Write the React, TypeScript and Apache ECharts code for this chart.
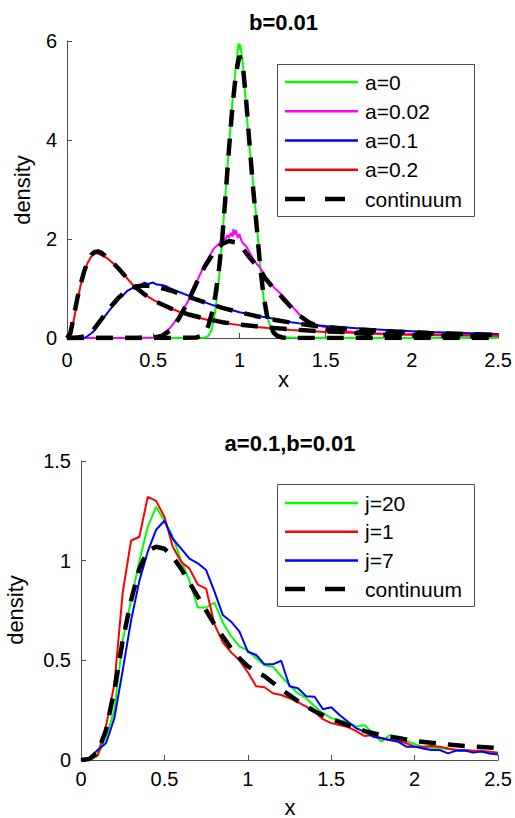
import React, { useEffect, useRef } from 'react';
import * as echarts from 'echarts';

// ---------- data: top panel (b=0.01) ----------
const topTitle = 'b=0.01';
const bottomTitle = 'a=0.1,b=0.01';
const topLegend = ['a=0', 'a=0.02', 'a=0.1', 'a=0.2', 'continuum'];
const bottomLegend = ['j=20', 'j=1', 'j=7', 'continuum'];

const topA0: number[][] = [
  [0, 0], [0.5, 0], [0.75, 0], [0.8, 0.01], [0.82, 0.04], [0.84, 0.17], [0.86, 0.55], [0.88, 1.15],
  [0.9, 2.0], [0.92, 2.95], [0.94, 3.9], [0.96, 4.8], [0.98, 5.5], [0.99, 5.8], [0.995, 5.95],
  [1.0, 5.82], [1.005, 5.93], [1.01, 5.8], [1.02, 5.55], [1.04, 4.6], [1.06, 3.8], [1.08, 3.1],
  [1.1, 2.35], [1.12, 1.45], [1.14, 0.8], [1.16, 0.45], [1.18, 0.22], [1.2, 0.1], [1.22, 0.05],
  [1.25, 0.02], [1.3, 0.01], [1.5, 0], [2.5, 0],
];
const topA002: number[][] = [
  [0, 0], [0.4, 0], [0.5, 0.01], [0.55, 0.06], [0.6, 0.21], [0.65, 0.45], [0.7, 0.73], [0.75, 1.12],
  [0.8, 1.5], [0.85, 1.8], [0.88, 1.9], [0.9, 1.97], [0.92, 2.0], [0.93, 2.08], [0.94, 2.02],
  [0.95, 2.12], [0.96, 2.05], [0.965, 2.2], [0.97, 2.08], [0.98, 2.18], [0.99, 2.02], [1.0, 2.1],
  [1.01, 1.98], [1.02, 1.92], [1.04, 1.85], [1.06, 1.72], [1.08, 1.6], [1.1, 1.5], [1.12, 1.42],
  [1.15, 1.25], [1.2, 1.02], [1.25, 0.86], [1.3, 0.66], [1.35, 0.47], [1.4, 0.34], [1.45, 0.26],
  [1.5, 0.21], [1.6, 0.14], [1.7, 0.1], [1.8, 0.08], [2.0, 0.06], [2.2, 0.05], [2.5, 0.04],
];
const topA01: number[][] = [
  [0, 0], [0.1, 0], [0.12, 0.04], [0.15, 0.12], [0.2, 0.35], [0.25, 0.58], [0.3, 0.78], [0.35, 0.95],
  [0.4, 1.05], [0.43, 1.08], [0.45, 1.12], [0.47, 1.09], [0.5, 1.12], [0.52, 1.08], [0.55, 1.07],
  [0.58, 1.04], [0.6, 1.0], [0.65, 0.93], [0.7, 0.86], [0.75, 0.78], [0.8, 0.72], [0.85, 0.66],
  [0.9, 0.61], [0.95, 0.57], [1.0, 0.52], [1.1, 0.45], [1.2, 0.39], [1.3, 0.32], [1.4, 0.27],
  [1.5, 0.24], [1.7, 0.19], [1.9, 0.15], [2.1, 0.12], [2.3, 0.1], [2.5, 0.08],
];
const topA02: number[][] = [
  [0, 0], [0.02, 0.05], [0.04, 0.38], [0.06, 0.75], [0.08, 1.08], [0.1, 1.33], [0.12, 1.52],
  [0.14, 1.64], [0.16, 1.7], [0.18, 1.71], [0.2, 1.67], [0.23, 1.62], [0.26, 1.53], [0.29, 1.44],
  [0.32, 1.33], [0.35, 1.2], [0.38, 1.08], [0.41, 0.98], [0.45, 0.88], [0.5, 0.77], [0.55, 0.68],
  [0.6, 0.6], [0.65, 0.53], [0.7, 0.47], [0.8, 0.38], [0.9, 0.31], [1.0, 0.26], [1.1, 0.22],
  [1.2, 0.19], [1.3, 0.16], [1.4, 0.14], [1.5, 0.12], [1.7, 0.1], [1.9, 0.08], [2.1, 0.07],
  [2.3, 0.06], [2.5, 0.05],
];
const contA0: number[][] = [
  [0, 0], [0.6, 0], [0.75, 0.01], [0.78, 0.04], [0.8, 0.1], [0.82, 0.25], [0.84, 0.5], [0.86, 0.85],
  [0.88, 1.35], [0.9, 2.0], [0.92, 2.9], [0.94, 3.85], [0.96, 4.7], [0.98, 5.35], [1.0, 5.7],
  [1.02, 5.5], [1.04, 4.75], [1.06, 3.85], [1.08, 3.0], [1.1, 2.25], [1.12, 1.45], [1.14, 0.85],
  [1.16, 0.45], [1.18, 0.22], [1.2, 0.1], [1.22, 0.04], [1.25, 0.01], [1.3, 0], [2.5, 0],
];
const contA002: number[][] = [
  [0, 0], [0.4, 0], [0.5, 0.01], [0.55, 0.04], [0.6, 0.15], [0.65, 0.4], [0.7, 0.72], [0.75, 1.1],
  [0.8, 1.45], [0.85, 1.72], [0.9, 1.9], [0.94, 1.96], [0.98, 1.93], [1.02, 1.8], [1.06, 1.62],
  [1.1, 1.46], [1.12, 1.38], [1.15, 1.2], [1.2, 1.0], [1.25, 0.81], [1.3, 0.62], [1.35, 0.45],
  [1.4, 0.32], [1.45, 0.24], [1.5, 0.18], [1.6, 0.12], [1.8, 0.07], [2.0, 0.05], [2.5, 0.03],
];
const contA01: number[][] = [
  [0, 0], [0.05, 0], [0.1, 0.03], [0.15, 0.15], [0.2, 0.38], [0.25, 0.62], [0.3, 0.82], [0.35, 0.96],
  [0.4, 1.04], [0.45, 1.06], [0.5, 1.05], [0.55, 1.01], [0.6, 0.96], [0.7, 0.84], [0.8, 0.72],
  [0.9, 0.61], [1.0, 0.52], [1.1, 0.44], [1.2, 0.37], [1.3, 0.31], [1.4, 0.26], [1.5, 0.22],
  [1.7, 0.17], [1.9, 0.13], [2.1, 0.1], [2.3, 0.08], [2.5, 0.065],
];
const contA02: number[][] = [
  [0, 0], [0.02, 0.1], [0.04, 0.45], [0.06, 0.8], [0.08, 1.1], [0.1, 1.35], [0.12, 1.55], [0.14, 1.68],
  [0.16, 1.74], [0.18, 1.75], [0.2, 1.72], [0.25, 1.58], [0.3, 1.4], [0.35, 1.2], [0.4, 1.02],
  [0.45, 0.88], [0.5, 0.76], [0.6, 0.6], [0.7, 0.48], [0.8, 0.39], [0.9, 0.32], [1.0, 0.27],
  [1.2, 0.2], [1.4, 0.15], [1.6, 0.12], [1.8, 0.1], [2.0, 0.08], [2.5, 0.05],
];

// ---------- data: bottom panel (a=0.1, b=0.01), bins of 0.05 ----------
const binX: number[] = [
  0, 0.05, 0.1, 0.15, 0.2, 0.25, 0.3, 0.35, 0.4, 0.45, 0.5, 0.55, 0.6, 0.65, 0.7, 0.75, 0.8, 0.85,
  0.9, 0.95, 1.0, 1.05, 1.1, 1.15, 1.2, 1.25, 1.3, 1.35, 1.4, 1.45, 1.5, 1.55, 1.6, 1.65, 1.7, 1.75,
  1.8, 1.85, 1.9, 1.95, 2.0, 2.05, 2.1, 2.15, 2.2, 2.25, 2.3, 2.35, 2.4, 2.45, 2.5,
];
const j20: number[] = [
  0, 0, 0.02, 0.117, 0.25, 0.6, 0.8, 1.0, 1.17, 1.27, 1.2, 1.12, 1.0, 0.9, 0.765, 0.765, 0.79, 0.69,
  0.62, 0.57, 0.55, 0.51, 0.475, 0.468, 0.42, 0.375, 0.335, 0.31, 0.27, 0.235, 0.21, 0.2, 0.19, 0.167,
  0.175, 0.134, 0.092, 0.125, 0.11, 0.095, 0.08, 0.065, 0.062, 0.06, 0.055, 0.05, 0.048, 0.045, 0.042,
  0.04, 0.035,
];
const j1: number[] = [
  0, 0, 0.025, 0.17, 0.38, 0.84, 1.1, 1.12, 1.32, 1.3, 1.22, 1.07, 0.995, 0.96, 0.88, 0.86, 0.68, 0.59,
  0.54, 0.5, 0.44, 0.37, 0.365, 0.335, 0.326, 0.31, 0.29, 0.268, 0.242, 0.205, 0.185, 0.175, 0.165,
  0.145, 0.12, 0.125, 0.11, 0.1, 0.097, 0.084, 0.067, 0.067, 0.07, 0.067, 0.058, 0.05, 0.05, 0.047,
  0.047, 0.042, 0.037,
];
const j7: number[] = [
  0, 0.01, 0.05, 0.084, 0.21, 0.45, 0.7, 0.9, 1.045, 1.155, 1.2, 1.11, 1.06, 1.01, 0.987, 0.953, 0.845,
  0.727, 0.694, 0.644, 0.543, 0.527, 0.48, 0.48, 0.498, 0.37, 0.36, 0.32, 0.317, 0.255, 0.265, 0.226,
  0.192, 0.159, 0.142, 0.117, 0.109, 0.1, 0.092, 0.067, 0.067, 0.058, 0.05, 0.05, 0.033, 0.047, 0.047,
  0.037, 0.042, 0.033, 0.028,
];
const contBottom: number[][] = [
  [0, 0], [0.05, 0.005], [0.1, 0.04], [0.15, 0.15], [0.2, 0.35], [0.25, 0.6], [0.3, 0.8], [0.35, 0.96],
  [0.4, 1.05], [0.45, 1.07], [0.5, 1.06], [0.55, 1.02], [0.6, 0.96], [0.65, 0.89], [0.7, 0.82],
  [0.75, 0.75], [0.8, 0.68], [0.85, 0.62], [0.9, 0.56], [0.95, 0.51], [1.0, 0.47], [1.1, 0.42],
  [1.2, 0.355], [1.3, 0.295], [1.4, 0.245], [1.5, 0.205], [1.6, 0.175], [1.7, 0.145], [1.8, 0.125],
  [1.9, 0.11], [2.0, 0.095], [2.1, 0.086], [2.2, 0.078], [2.3, 0.07], [2.4, 0.065], [2.5, 0.06],
];

// ---------- styling ----------
const FONT = '"Liberation Sans", Arial, Helvetica, sans-serif';
const AXIS = '#4d4d4d';
const GREEN = '#00ff00';
const MAGENTA = '#ff00ff';
const BLUE = '#0000ff';
const RED = '#ff0000';
const DASH = [17, 12];

const zip = (xs: number[], ys: number[]) => xs.map((x, i) => [x, ys[i]]);

function xAxis(gridIndex: number, margin: number) {
  return {
    type: 'value', gridIndex, min: 0, max: 2.5, interval: 0.5,
    axisLine: { show: true, onZero: false, lineStyle: { color: AXIS, width: 1 } },
    axisTick: { show: true, inside: true, length: 5, lineStyle: { color: AXIS } },
    axisLabel: { color: '#000', fontSize: 20, fontFamily: FONT, margin },
    splitLine: { show: false },
  };
}
function yAxis(gridIndex: number, max: number, interval: number) {
  return {
    type: 'value', gridIndex, min: 0, max, interval,
    axisLine: { show: true, onZero: false, lineStyle: { color: AXIS, width: 1 } },
    axisTick: { show: true, inside: true, length: 5, lineStyle: { color: AXIS } },
    axisLabel: { color: '#000', fontSize: 20, fontFamily: FONT, margin: 10 },
    splitLine: { show: false },
  };
}
function solid(name: string, idx: number, data: number[][], color: string) {
  return {
    name, type: 'line', xAxisIndex: idx, yAxisIndex: idx, data, showSymbol: false, symbol: 'none',
    silent: true, lineStyle: { color, width: 2 }, z: 2,
  };
}
function dashed(name: string, idx: number, data: number[][]) {
  return {
    name, type: 'line', xAxisIndex: idx, yAxisIndex: idx, data, showSymbol: false, symbol: 'none',
    silent: true, lineStyle: { color: '#000', width: 4.5, type: DASH, cap: 'butt' }, z: 3,
  };
}

function legendBox(labels: string[], colors: string[], x: number, y: number, w: number, h: number, row0: number, step: number) {
  const children: any[] = [
    { type: 'rect', shape: { x, y, width: w, height: h }, style: { fill: '#fff', stroke: AXIS, lineWidth: 1 } },
  ];
  labels.forEach((lab, i) => {
    const ry = row0 + i * step;
    const isDash = colors[i] === 'dash';
    children.push({
      type: 'line',
      shape: { x1: 285, y1: ry, x2: isDash ? 345 : 358, y2: ry },
      style: isDash
        ? { stroke: '#000', lineWidth: 4.5, lineDash: [20, 20] }
        : { stroke: colors[i], lineWidth: 2.5 },
    });
    children.push({
      type: 'text', x: 365, y: ry,
      style: { text: lab, fontSize: 21, fontFamily: FONT, fill: '#000', align: 'left', verticalAlign: 'middle' },
    });
  });
  return { type: 'group', z: 100, children };
}

function textEl(text: string, x: number, y: number, size: number, bold: boolean, rot = 0) {
  return {
    type: 'text', x, y, rotation: rot, z: 100,
    style: { text, fontSize: size, fontWeight: bold ? 'bold' : 'normal', fontFamily: FONT, fill: '#000', align: 'center', verticalAlign: 'middle' },
  };
}

export default function App() {
  const ref = useRef<HTMLDivElement>(null);
  useEffect(() => {
    if (!ref.current) return;
    const chart = echarts.init(ref.current, undefined, { renderer: 'svg' });
    const option: any = {
      animation: false,
      backgroundColor: '#fff',
      grid: [
        { left: 67, right: 15, top: 41, bottom: 480 },
        { left: 81, right: 16, top: 461, bottom: 58 },
      ],
      xAxis: [xAxis(0, 12), xAxis(1, 9)],
      yAxis: [yAxis(0, 6, 2), yAxis(1, 1.5, 0.5)],
      series: [
        solid('a=0', 0, topA0, GREEN),
        solid('a=0.02', 0, topA002, MAGENTA),
        solid('a=0.1', 0, topA01, BLUE),
        solid('a=0.2', 0, topA02, RED),
        dashed('continuum a=0', 0, contA0),
        dashed('continuum a=0.02', 0, contA002),
        dashed('continuum a=0.1', 0, contA01),
        dashed('continuum a=0.2', 0, contA02),
        solid('j=20', 1, zip(binX, j20), GREEN),
        solid('j=1', 1, zip(binX, j1), RED),
        solid('j=7', 1, zip(binX, j7), BLUE),
        dashed('continuum', 1, contBottom),
      ],
      graphic: [
        textEl(topTitle, 283.5, 22, 22, true),
        textEl(bottomTitle, 290, 443, 22, true),
        textEl('density', 22, 190, 22, false, Math.PI / 2),
        textEl('density', 15, 610, 22, false, Math.PI / 2),
        textEl('x', 283.5, 379, 22, false),
        textEl('x', 290, 807, 22, false),
        legendBox(topLegend, [GREEN, MAGENTA, BLUE, RED, 'dash'], 277.5, 64.5, 197, 152, 82, 29.25),
        legendBox(bottomLegend, [GREEN, RED, BLUE, 'dash'], 277.5, 484.5, 197, 122, 503, 28.7),
      ],
    };
    chart.setOption(option);
    return () => chart.dispose();
  }, []);
  return <div ref={ref} style={{ position: 'fixed', left: 0, top: 0, width: 515, height: 818, background: '#fff' }} />;
}
